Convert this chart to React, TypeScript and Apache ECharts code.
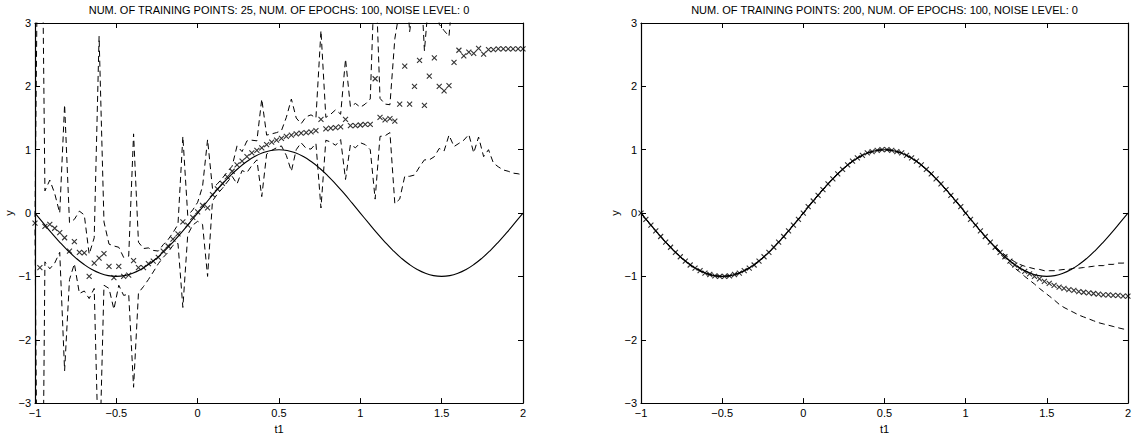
import React, { useEffect, useRef } from "react";
import * as echarts from "echarts";

// input grid (100 evenly spaced evaluation points from -1 to 2)
const tGrid = [
  -1, -0.97, -0.939, -0.909, -0.879, -0.848, -0.818, -0.788, -0.758, -0.727,
  -0.697, -0.667, -0.636, -0.606, -0.576, -0.545, -0.515, -0.485, -0.455, -0.424,
  -0.394, -0.364, -0.333, -0.303, -0.273, -0.242, -0.212, -0.182, -0.152, -0.121,
  -0.091, -0.061, -0.03, 0, 0.03, 0.061, 0.091, 0.121, 0.152, 0.182,
  0.212, 0.242, 0.273, 0.303, 0.333, 0.364, 0.394, 0.424, 0.455, 0.485,
  0.515, 0.545, 0.576, 0.606, 0.636, 0.667, 0.697, 0.727, 0.758, 0.788,
  0.818, 0.848, 0.879, 0.909, 0.939, 0.97, 1, 1.03, 1.061, 1.091,
  1.121, 1.152, 1.182, 1.212, 1.242, 1.273, 1.303, 1.333, 1.364, 1.394,
  1.424, 1.455, 1.485, 1.515, 1.545, 1.576, 1.606, 1.636, 1.667, 1.697,
  1.727, 1.758, 1.788, 1.818, 1.848, 1.879, 1.909, 1.939, 1.97, 2,
];

// target function (solid line), read at steps of 0.05
const curveT = [
  -1, -0.95, -0.9, -0.85, -0.8, -0.75, -0.7, -0.65, -0.6, -0.55,
  -0.5, -0.45, -0.4, -0.35, -0.3, -0.25, -0.2, -0.15, -0.1, -0.05,
  0, 0.05, 0.1, 0.15, 0.2, 0.25, 0.3, 0.35, 0.4, 0.45,
  0.5, 0.55, 0.6, 0.65, 0.7, 0.75, 0.8, 0.85, 0.9, 0.95,
  1, 1.05, 1.1, 1.15, 1.2, 1.25, 1.3, 1.35, 1.4, 1.45,
  1.5, 1.55, 1.6, 1.65, 1.7, 1.75, 1.8, 1.85, 1.9, 1.95, 2,
];
const curveY = [
  0, -0.156, -0.309, -0.454, -0.588, -0.707, -0.809, -0.891, -0.951, -0.988,
  -1, -0.988, -0.951, -0.891, -0.809, -0.707, -0.588, -0.454, -0.309, -0.156,
  0, 0.156, 0.309, 0.454, 0.588, 0.707, 0.809, 0.891, 0.951, 0.988,
  1, 0.988, 0.951, 0.891, 0.809, 0.707, 0.588, 0.454, 0.309, 0.156,
  0, -0.156, -0.309, -0.454, -0.588, -0.707, -0.809, -0.891, -0.951, -0.988,
  -1, -0.988, -0.951, -0.891, -0.809, -0.707, -0.588, -0.454, -0.309, -0.156, 0,
];

// left panel: network mean (crosses) and half-width of the dashed band
const leftMean = [
  -0.16, -0.86, -0.21, -0.18, -0.24, -0.31, -0.39, -0.6, -0.45, -0.62,
  -0.63, -1.0, -0.79, -0.71, -0.64, -0.84, -1.02, -0.84, -1.0, -0.98,
  -0.75, -0.86, -0.86, -0.8, -0.76, -0.7, -0.6, -0.52, -0.41, -0.33,
  -0.14, -0.19, -0.07, 0.02, 0.12, 0.08, 0.29, 0.38, 0.47, 0.57,
  0.66, 0.76, 0.82, 0.89, 0.95, 0.99, 1.03, 1.08, 1.12, 1.15,
  1.18, 1.21, 1.23, 1.25, 1.26, 1.27, 1.28, 1.3, 1.48, 1.33,
  1.34, 1.35, 1.36, 1.48, 1.38, 1.38, 1.39, 1.4, 1.4, 2.12,
  1.51, 1.47, 1.49, 1.45, 1.72, 2.32, 1.72, 2.0, 2.41, 1.7,
  2.16, 2.45, 2.0, 1.93, 2.01, 2.38, 2.57, 2.48, 2.54, 2.52,
  2.6, 2.51, 2.58, 2.58, 2.59, 2.59, 2.59, 2.59, 2.59, 2.59,
];
const leftSpread = [
  0.1, 9.0, 0.56, 0.7, 0.55, 0.31, 2.1, 0.45, 0.35, 0.65,
  0.6, 0.35, 0.4, 3.5, 0.5, 0.35, 0.5, 0.3, 0.3, 0.3,
  2.0, 0.4, 0.3, 0.25, 0.17, 0.1, 0.1, 0.1, 0.1, 0.15,
  1.35, 0.15, 0.12, 0.15, 0.3, 1.08, 0.1, 0.08, 0.08, 0.08,
  0.08, 0.3, 0.15, 0.25, 0.2, 0.15, 0.77, 0.15, 0.13, 0.12,
  0.12, 0.3, 0.57, 0.25, 0.15, 0.25, 0.27, 0.2, 1.4, 0.18,
  0.22, 0.28, 0.2, 0.95, 0.3, 0.35, 0.28, 0.32, 0.4, 1.9,
  0.3, 0.25, 0.22, 1.3, 1.5, 1.74, 1.14, 1.4, 1.68, 0.86,
  1.32, 1.56, 0.98, 0.95, 0.78, 1.33, 1.47, 1.33, 1.3, 1.57,
  1.4, 1.62, 1.58, 1.79, 1.86, 1.91, 1.93, 1.96, 1.97, 1.99,
];

// right panel
const rightMean = [
  0, -0.1, -0.19, -0.28, -0.37, -0.46, -0.54, -0.62, -0.69, -0.76,
  -0.82, -0.87, -0.91, -0.95, -0.97, -0.99, -1.0, -1.0, -0.99, -0.97,
  -0.95, -0.91, -0.87, -0.82, -0.76, -0.69, -0.62, -0.54, -0.46, -0.37,
  -0.28, -0.19, -0.1, 0, 0.1, 0.19, 0.28, 0.37, 0.46, 0.54,
  0.62, 0.69, 0.76, 0.82, 0.87, 0.91, 0.95, 0.97, 0.99, 1.0,
  1.0, 0.99, 0.97, 0.95, 0.91, 0.87, 0.82, 0.76, 0.69, 0.62,
  0.54, 0.46, 0.37, 0.28, 0.19, 0.1, 0, -0.1, -0.19, -0.28,
  -0.37, -0.46, -0.54, -0.62, -0.69, -0.76, -0.82, -0.87, -0.92, -0.96,
  -1.0, -1.04, -1.08, -1.11, -1.14, -1.17, -1.19, -1.21, -1.22, -1.24,
  -1.25, -1.26, -1.27, -1.28, -1.29, -1.29, -1.3, -1.3, -1.31, -1.31,
];
const rightSpread = [
  0, 0, 0, 0, 0, 0, 0, 0, 0, 0,
  0, 0, 0, 0, 0, 0, 0, 0, 0, 0,
  0, 0, 0, 0, 0, 0, 0, 0, 0, 0,
  0, 0, 0, 0, 0, 0, 0, 0, 0, 0,
  0, 0, 0, 0, 0, 0, 0, 0, 0, 0,
  0, 0, 0, 0, 0, 0, 0, 0, 0, 0,
  0, 0, 0, 0, 0, 0, 0, 0, 0, 0,
  0, 0, 0.01, 0.02, 0.03, 0.04, 0.05, 0.06, 0.08, 0.1,
  0.12, 0.15, 0.17, 0.2, 0.23, 0.27, 0.3, 0.32, 0.35, 0.37,
  0.39, 0.41, 0.43, 0.45, 0.46, 0.48, 0.49, 0.51, 0.52, 0.53,
];

const titles = [
  "NUM. OF TRAINING POINTS: 25, NUM. OF EPOCHS: 100, NOISE LEVEL: 0",
  "NUM. OF TRAINING POINTS: 200, NUM. OF EPOCHS: 100, NOISE LEVEL: 0",
];
const xAxisName = "t1";
const yAxisName = "y";

const FONT = '"Liberation Sans", Arial, Helvetica, sans-serif';
const CROSS = "path://M0,0L10,10M10,0L0,10";
const GRIDS = [
  { left: 35, top: 23, width: 488, height: 384 },
  { left: 641, top: 23, width: 487, height: 384 },
];

const fmt = (v: number) => String(v).replace("-", "\u2212");

function App() {
  const ref = useRef<HTMLDivElement>(null);
  useEffect(() => {
    if (!ref.current) return;
    const chart = echarts.init(ref.current, null, { renderer: "svg" });
    const xAxes: any[] = [];
    const yAxes: any[] = [];
    const series: any[] = [];
    const panels = [
      { mean: leftMean, spread: leftSpread },
      { mean: rightMean, spread: rightSpread },
    ];
    const axisLine = { show: true, onZero: false, lineStyle: { color: "#000", width: 1.2 } };
    const axisTick = { show: true, inside: true, length: 5, lineStyle: { color: "#000", width: 1 } };
    panels.forEach((p, g) => {
      ["bottom", "top"].forEach((pos) => {
        xAxes.push({
          type: "value", gridIndex: g, position: pos, min: -1, max: 2, interval: 0.5,
          axisLine, axisTick, splitLine: { show: false },
          axisLabel: {
            show: pos === "bottom", color: "#000", fontSize: 11, fontFamily: FONT, margin: 4,
            formatter: fmt, showMinLabel: true, showMaxLabel: true, hideOverlap: false,
          },
          name: pos === "bottom" ? xAxisName : "", nameLocation: "middle", nameGap: 14,
          nameTextStyle: { color: "#000", fontSize: 11, fontFamily: FONT },
        });
      });
      ["left", "right"].forEach((pos) => {
        yAxes.push({
          type: "value", gridIndex: g, position: pos, min: -3, max: 3, interval: 1,
          axisLine, axisTick, splitLine: { show: false },
          axisLabel: {
            show: pos === "left", color: "#000", fontSize: 11, fontFamily: FONT, margin: 4,
            formatter: fmt, showMinLabel: true, showMaxLabel: true,
          },
          name: pos === "left" ? yAxisName : "", nameLocation: "middle", nameGap: 21,
          nameTextStyle: { color: "#000", fontSize: 11, fontFamily: FONT },
        });
      });
      const xi = g * 2;
      const yi = g * 2;
      series.push({
        type: "line", xAxisIndex: xi, yAxisIndex: yi, showSymbol: false, smooth: true,
        data: curveT.map((t, i) => [t, curveY[i]]),
        lineStyle: { color: "#000", width: 1.1 }, silent: true, z: 3,
      });
      const upper = p.mean.map((m, i) => [tGrid[i], m + p.spread[i]]);
      const lower = p.mean.map((m, i) => [tGrid[i], m - p.spread[i]]);
      [upper, lower].forEach((d) => {
        series.push({
          type: "line", xAxisIndex: xi, yAxisIndex: yi, showSymbol: false, data: d,
          lineStyle: { color: "#000", width: 1, type: [6, 4] }, silent: true, z: 2,
        });
      });
      series.push({
        type: "scatter", xAxisIndex: xi, yAxisIndex: yi, symbol: CROSS, symbolSize: 5,
        data: p.mean.map((m, i) => [tGrid[i], m]),
        itemStyle: { color: "rgba(0,0,0,0)", borderColor: "#000", borderWidth: 1.1 },
        silent: true, z: 4,
      });
    });
    chart.setOption({
      animation: false,
      backgroundColor: "#fff",
      grid: GRIDS.map((g) => ({ ...g, containLabel: false })),
      xAxis: xAxes,
      yAxis: yAxes,
      series,
      graphic: titles.map((t, g) => ({
        type: "text",
        x: GRIDS[g].left + GRIDS[g].width / 2,
        y: 10,
        style: {
          text: t, fill: "#000", fontSize: 11, fontFamily: FONT,
          align: "center", verticalAlign: "middle",
          textAlign: "center", textVerticalAlign: "middle",
        },
      })),
    });
    return () => chart.dispose();
  }, []);
  return (
    <div
      ref={ref}
      style={{ position: "absolute", left: 0, top: 0, width: 1134, height: 439, background: "#fff" }}
    />
  );
}

export default App;
